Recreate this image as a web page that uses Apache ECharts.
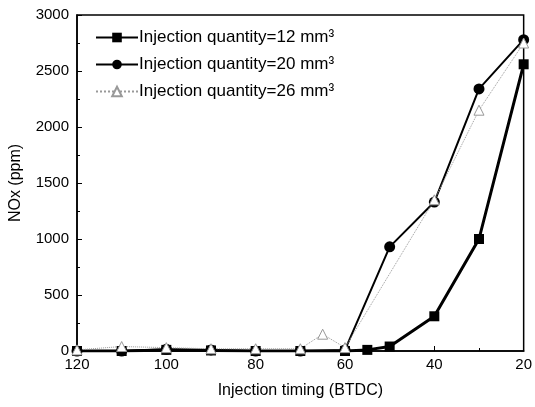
<!DOCTYPE html>
<html>
<head>
<meta charset="utf-8">
<script src="https://cdn.jsdelivr.net/npm/echarts@6/dist/echarts.min.js"></script>
<style>html,body{margin:0;padding:0;background:#fff}#c{width:535px;height:407px}</style>
</head>
<body>
<div id="c"></div>
<script>
const seriesNames = ['Injection quantity=12 mm³', 'Injection quantity=20 mm³', 'Injection quantity=26 mm³'];
const timing12 = [120, 110, 100, 90, 80, 70, 60, 55, 50, 40, 30, 20];
const nox12    = [0, 0, 10, 5, 0, 0, 0, 10, 40, 310, 1000, 2560];
const timing20 = [120, 110, 100, 90, 80, 70, 60, 50, 40, 30, 20];
const nox20    = [0, 0, 15, 10, 0, 0, 10, 930, 1330, 2340, 2780];
const timing26 = [120, 110, 100, 90, 80, 70, 65, 60, 40, 30, 20];
const nox26    = [10, 40, 30, 20, 20, 20, 150, 30, 1350, 2150, 2750];
const xTicks = [120, 100, 80, 60, 40, 20];
const yTicks = [0, 500, 1000, 1500, 2000, 2500, 3000];

const pair = (xs, ys) => xs.map((x, i) => [x, ys[i]]);
const font = 'Arial, "Liberation Sans", sans-serif';

const chart = echarts.init(document.getElementById('c'), null, {renderer: 'canvas'});
chart.setOption({
  animation: false,
  backgroundColor: '#fff',
  grid: {left: 75, right: 7, top: 15, bottom: 56, show: true, borderColor: '#000', borderWidth: 1.5, backgroundColor: 'transparent'},
  legend: {
    orient: 'vertical', left: 90, top: 24, itemWidth: 42, itemHeight: 12, itemGap: 10,
    textStyle: {fontFamily: font, fontSize: 17, color: '#000', padding: [0,0,0,-4]},
    data: seriesNames
  },
  xAxis: {
    type: 'value', inverse: true, min: xTicks[xTicks.length-1], max: xTicks[0], interval: 20,
    name: 'Injection timing (BTDC)', nameLocation: 'middle', nameGap: 32,
    nameTextStyle: {fontFamily: font, fontSize: 16, color: '#000'},
    axisLine: {lineStyle: {color: '#000', width: 1.5}},
    axisTick: {inside: true, length: 5, lineStyle: {color: '#000'}},
    minorTick: {show: true, splitNumber: 2, length: 3, lineStyle: {color: '#000'}},
    axisLabel: {fontFamily: font, fontSize: 15, color: '#000', margin: 6, formatter: v => String(v)},
    splitLine: {show: false}
  },
  yAxis: {
    type: 'value', min: yTicks[0], max: yTicks[yTicks.length-1], interval: 500,
    name: 'NOx (ppm)', nameLocation: 'middle', nameGap: 53, nameRotate: 90,
    nameTextStyle: {fontFamily: font, fontSize: 16, color: '#000'},
    axisLine: {show: true, lineStyle: {color: '#000', width: 1.5}},
    axisTick: {show: true, inside: true, length: 5, lineStyle: {color: '#000'}},
    minorTick: {show: true, splitNumber: 2, length: 3, lineStyle: {color: '#000'}},
    axisLabel: {fontFamily: font, fontSize: 15, color: '#000', margin: 8, formatter: v => String(v)},
    splitLine: {show: false}
  },
  series: [
    {
      name: seriesNames[0], type: 'line', data: pair(timing12, nox12),
      symbol: 'rect', symbolSize: 10,
      lineStyle: {color: '#000', width: 3}, itemStyle: {color: '#000'}
    },
    {
      name: seriesNames[1], type: 'line', data: pair(timing20, nox20),
      symbol: 'circle', symbolSize: 11,
      lineStyle: {color: '#000', width: 2}, itemStyle: {color: '#000'}
    },
    {
      name: seriesNames[2], type: 'line', data: pair(timing26, nox26),
      symbol: 'triangle', symbolSize: 10,
      lineStyle: {color: '#999', width: 1, type: 'dotted'},
      itemStyle: {color: '#fff', borderColor: '#999', borderWidth: 1}
    }
  ]
});
</script>
</body>
</html>
